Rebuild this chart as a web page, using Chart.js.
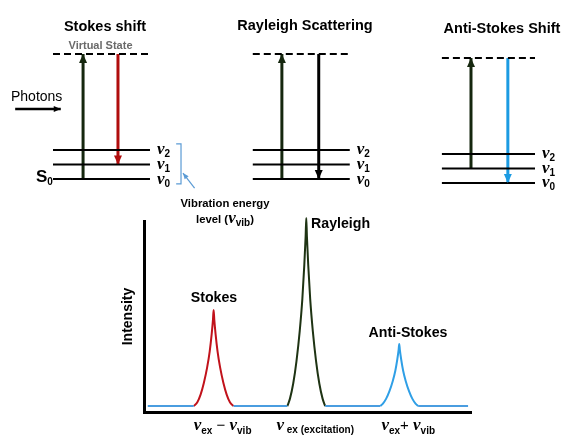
<!DOCTYPE html>
<html>
<head>
<meta charset="utf-8">
<script src="https://cdn.jsdelivr.net/npm/chart.js@4.4.0/dist/chart.umd.min.js"></script>
<style>
body{margin:0;background:#fff;}
#wrap{position:relative;width:561px;height:435px;}
canvas{position:absolute;left:0;top:0;}
</style>
</head>
<body>
<div id="wrap">
  <canvas id="levels" width="561" height="435"></canvas>
  <canvas id="spectrum" width="561" height="435"></canvas>
</div>
<script>
// ---- energy level diagram (x in panel units, y in vibrational quanta)
const panelTitles=['Stokes shift','Rayleigh Scattering','Anti-Stokes Shift'];
const panelLeft=[0,20.6,40.1];
const panelRight=[10,30.6,49.7];
const vibLevels=[0,1,2];
const vibNames=['0','1','2'];
const virtualLevel=8.6;
const upX=[3.1,23.6,43.1];
const upFrom=[0,0,1];
const downX=[6.7,27.4,46.9];
const downTo=[1,0,0];
const downColors=['#b00d0d','#000000','#1c9be2'];
const photonsX=[-3.9,0.8];
const photonsY=4.82;
const bracketX=[12.7,13.2,13.2,12.7];
const bracketY=[2.41,2.41,-0.34,-0.34];
const pointerX=[14.6,13.4];
const pointerY=[-0.62,0.41];

// ---- spectrum (arbitrary units)
const baselineX=[0.9,15.0,21.1,27.2,43.7,49.5,55.3,72.2,78,83.8,99.1];
const baselineY=[3.1,3.1,null,3.1,3.1,null,3.1,3.1,null,3.1,3.1];
const stokesX=[15.0,16.1,17.1,18.1,19.1,19.9,20.5,20.9,21.1,21.3,21.7,22.3,23.1,24.1,25.1,26.1,27.2];
const stokesY=[3.1,5.1,9.1,15.2,23.2,31.8,40.8,48.4,53.4,48.4,40.8,31.8,23.2,15.2,9.1,5.1,3.1];
const rayleighX=[43.7,44.5,45.5,46.5,47.5,48.3,48.9,49.3,49.5,49.7,50.1,50.7,51.5,52.5,53.5,54.5,55.3];
const rayleighY=[3.1,7.0,14.9,26.7,42.5,59.2,77.0,91.8,101.6,91.8,77.0,59.2,42.5,26.7,14.9,7.0,3.1];
const antiX=[72.2,73,74,75,76,76.8,77.4,77.8,78,78.2,78.6,79.2,80,81,82,83,83.8];
const antiY=[3.1,4.4,7.0,10.9,16.1,21.6,27.5,32.4,35.6,32.4,27.5,21.6,16.1,10.9,7.0,4.4,3.1];
const peakCenters=[21.1,49.5,78];

const NU='italic bold 17px "Liberation Serif"';
const SUB='bold 10px "Liberation Sans"';
const bold=s=>'bold '+s+'px "Liberation Sans"';

function pts(xs,ys){return xs.map((x,i)=>({x:x,y:ys[i]}));}

function rich(ctx,parts,x,y,align){
  let w=0;
  parts.forEach(p=>{ctx.font=p[1];w+=ctx.measureText(p[0]).width;});
  let cx=align==='center'?x-w/2:x;
  parts.forEach(p=>{ctx.font=p[1];ctx.fillText(p[0],cx,y+(p[2]||0));cx+=ctx.measureText(p[0]).width;});
}

const arrowHeads={
  id:'arrowHeads',
  afterDatasetsDraw(chart){
    const ctx=chart.ctx;
    chart.data.datasets.forEach((ds,i)=>{
      if(!ds.arrow) return;
      const p=chart.getDatasetMeta(i).data;
      const a=p[p.length-2],b=p[p.length-1];
      const ang=Math.atan2(b.y-a.y,b.x-a.x);
      ctx.save();
      ctx.translate(b.x,b.y);ctx.rotate(ang);
      ctx.beginPath();
      ctx.moveTo(0,0);ctx.lineTo(-ds.arrow[0],ds.arrow[1]/2);ctx.lineTo(-ds.arrow[0],-ds.arrow[1]/2);
      ctx.closePath();
      ctx.fillStyle=ds.borderColor;ctx.fill();
      ctx.restore();
    });
  }
};

// datasets for the diagram
let lvDatasets=[];
for(let p=0;p<3;p++){
  const ax=p===2?'y3':'y';
  const L=panelLeft[p],R=panelRight[p];
  let d=[];
  vibLevels.forEach(e=>{d.push({x:L,y:e},{x:R,y:e},{x:(L+R)/2,y:null});});
  lvDatasets.push({data:d,yAxisID:ax,borderColor:'#000',borderWidth:2});
  lvDatasets.push({data:[{x:L,y:virtualLevel},{x:R,y:virtualLevel}],yAxisID:ax,borderColor:'#000',borderWidth:2,borderDash:[7,4]});
  lvDatasets.push({data:[{x:upX[p],y:upFrom[p]},{x:upX[p],y:virtualLevel}],yAxisID:ax,borderColor:'#15270e',borderWidth:3,arrow:[9,8]});
  lvDatasets.push({data:[{x:downX[p],y:virtualLevel},{x:downX[p],y:downTo[p]}],yAxisID:ax,borderColor:downColors[p],borderWidth:3,arrow:[9,8]});
}
lvDatasets.push({data:[{x:photonsX[0],y:photonsY},{x:photonsX[1],y:photonsY}],borderColor:'#000',borderWidth:2.5,arrow:[7,6]});
lvDatasets.push({data:pts(bracketX,bracketY),borderColor:'#5b9bd5',borderWidth:1.2});
lvDatasets.push({data:pts(pointerX,pointerY),borderColor:'#5b9bd5',borderWidth:1.2,arrow:[6,5]});
lvDatasets.forEach(ds=>{ds.pointRadius=0;ds.clip=false;ds.spanGaps=false;ds.tension=0;});

const levelText={
  id:'levelText',
  afterDraw(chart){
    const ctx=chart.ctx,xs=chart.scales.x;
    ctx.save();
    ctx.fillStyle='#000';ctx.textBaseline='alphabetic';ctx.textAlign='left';
    const titleX=[105,305,502],titleY=[31,30,33];
    panelTitles.forEach((t,i)=>rich(ctx,[[t,bold(14.5)]],titleX[i],titleY[i],'center'));
    for(let p=0;p<3;p++){
      const ys=chart.scales[p===2?'y3':'y'];
      vibLevels.forEach((e,k)=>{
        rich(ctx,[['\u03bd',NU],[vibNames[k],SUB,3]],xs.getPixelForValue(panelRight[p])+7,ys.getPixelForValue(e)+4.5,'left');
      });
    }
    rich(ctx,[['S',bold(17)],['0',SUB,3]],36,182,'left');
    rich(ctx,[['Photons','14px "Liberation Sans"']],11,101,'left');
    rich(ctx,[['Vibration energy',bold(11.3)]],225,207,'center');
    rich(ctx,[['level (',bold(11.3)],['\u03bd',NU],['vib',SUB,3],[')',bold(11.3)]],225,223,'center');
    ctx.fillStyle='#6a6a6a';
    rich(ctx,[['Virtual State',bold(11)]],100.5,49,'center');
    ctx.restore();
  }
};

new Chart('levels',{
  type:'line',
  data:{datasets:lvDatasets},
  options:{
    responsive:false,animation:false,devicePixelRatio:1,
    layout:{padding:{left:53,right:26,top:54,bottom:256}},
    plugins:{legend:{display:false},tooltip:{enabled:false}},
    scales:{
      x:{type:'linear',display:false,min:0,max:49.7},
      y:{display:false,min:0,max:virtualLevel},
      y3:{display:false,min:0.275,max:virtualLevel+0.275}
    }
  },
  plugins:[arrowHeads,levelText]
});

// spectrum chart
const spectrumText={
  id:'spectrumText',
  afterDraw(chart){
    const ctx=chart.ctx,xs=chart.scales.x;
    ctx.save();
    ctx.fillStyle='#000';ctx.textBaseline='alphabetic';
    rich(ctx,[['Stokes',bold(14.2)]],214,302,'center');
    rich(ctx,[['Rayleigh',bold(14.2)]],311,228,'left');
    rich(ctx,[['Anti-Stokes',bold(14.2)]],408,337,'center');
    const px=peakCenters.map(v=>xs.getPixelForValue(v)+9);
    rich(ctx,[['\u03bd',NU],['ex',SUB,4],[' \u2212 ','15px "Liberation Sans"'],['\u03bd',NU],['vib',SUB,4]],px[0],430,'center');
    rich(ctx,[['\u03bd',NU],[' ex (excitation)',SUB,3]],px[1],430,'center');
    rich(ctx,[['\u03bd',NU],['ex',SUB,4],['+ ','15px "Liberation Sans"'],['\u03bd',NU],['vib',SUB,4]],px[2],430,'center');
    ctx.restore();
  }
};

new Chart('spectrum',{
  type:'line',
  data:{datasets:[
    {data:pts(baselineX,baselineY),borderColor:'#4a9de0'},
    {data:pts(stokesX,stokesY),borderColor:'#c1121b'},
    {data:pts(rayleighX,rayleighY),borderColor:'#1e3313'},
    {data:pts(antiX,antiY),borderColor:'#2f9fe6'}
  ].map(ds=>Object.assign(ds,{borderWidth:2,pointRadius:0,clip:false,spanGaps:false,cubicInterpolationMode:'monotone'}))},
  options:{
    responsive:false,animation:false,devicePixelRatio:1,
    layout:{padding:{left:116,right:90,top:221,bottom:23}},
    plugins:{legend:{display:false},tooltip:{enabled:false}},
    scales:{
      x:{type:'linear',min:0,max:100,grid:{display:false,drawTicks:false},ticks:{display:false},border:{display:true,width:3,color:'#000'}},
      y:{min:0,max:100,grid:{display:false,drawTicks:false},ticks:{display:false},border:{display:true,width:3,color:'#000'},
         title:{display:true,text:'Intensity',color:'#000',font:{family:'Liberation Sans',size:14,weight:'bold'},padding:{top:4,bottom:8}}}
    }
  },
  plugins:[spectrumText]
});
</script>
</body>
</html>
